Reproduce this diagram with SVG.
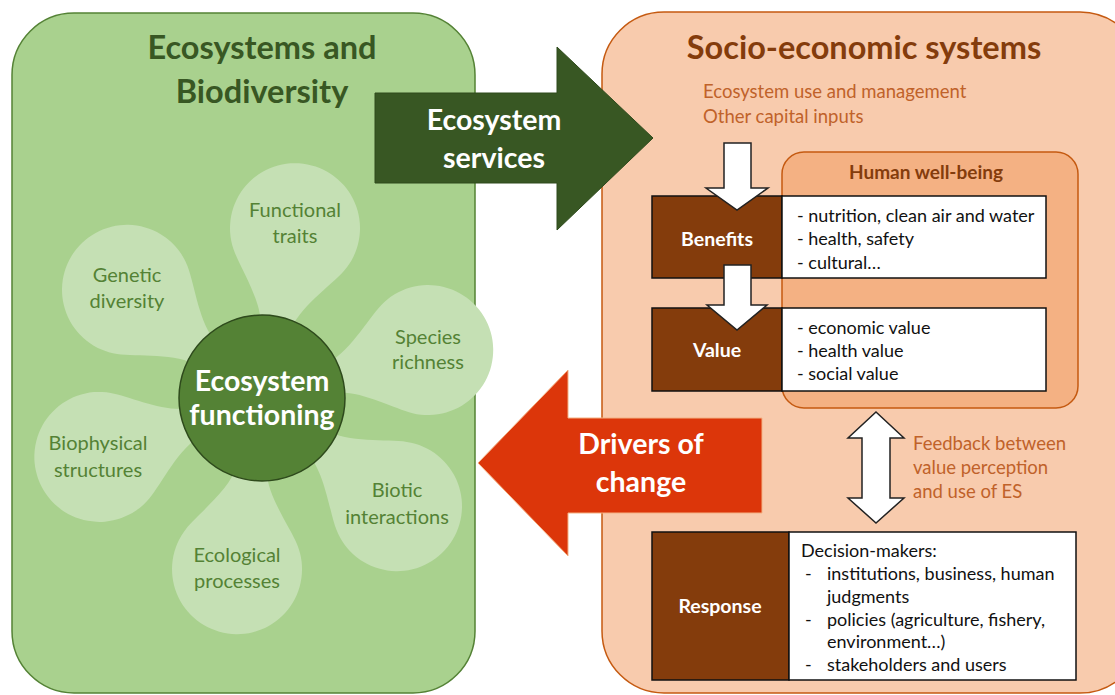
<svg xmlns="http://www.w3.org/2000/svg" width="1115" height="695" viewBox="0 0 1115 695">
<style>
.t{font-family:Lato,"Liberation Sans",sans-serif}
.title{font-size:32.5px;font-weight:bold}
.petal{fill:#c5e0b4}
.pt{font-size:20px;fill:#548235;text-anchor:middle}
.big{font-size:28.5px;font-weight:bold;fill:#fff;text-anchor:middle}
.br{fill:#843c0c;stroke:#111;stroke-width:1.5}
.wb{fill:#fff;stroke:#111;stroke-width:1.5}
.lbl{font-size:19.5px;font-weight:bold;fill:#fff;text-anchor:middle}
.it{font-size:18px;fill:#111}
.or{font-size:18.5px;fill:#c0622a}
.wa{fill:#fff;stroke:#222;stroke-width:1.5}
</style>
<defs>
<path id="petal" class="petal" d="M56.3,-140.5 A65,65 0 1 0 -56.3,-140.5 C-46.3,-123.2 -18,-95 -15,-70 L15,-70 C18,-95 46.3,-123.2 56.3,-140.5 Z"/>
</defs>
<g id="ecosystems">
<rect x="12" y="13" width="463" height="680" rx="62" fill="#a9d18e" stroke="#548235" stroke-width="1.5"/>
<text class="t title" x="262" y="59" text-anchor="middle" fill="#385723">Ecosystems and</text>
<text class="t title" x="262" y="103" text-anchor="middle" fill="#385723">Biodiversity</text>
</g>
<g id="socio">
<rect x="602" y="12" width="540" height="681" rx="62" fill="#f8cbad" stroke="#c55a11" stroke-width="1.5"/>
<text class="t title" x="864" y="59" text-anchor="middle" fill="#843c0c">Socio-economic systems</text>
<text class="t or" x="703" y="98">Ecosystem use and management</text>
<text class="t or" x="703" y="123">Other capital inputs</text>
</g>
<g id="petals">
<use href="#petal" transform="translate(262,398) rotate(11)"/>
<use href="#petal" transform="translate(262,398) rotate(-51.3)"/>
<use href="#petal" transform="translate(262,398) rotate(73.9)"/>
<use href="#petal" transform="translate(262,398) rotate(-109.9)"/>
<use href="#petal" transform="translate(262,398) rotate(128.7)"/>
<use href="#petal" transform="translate(262,398) rotate(-171.7)"/>
</g>
<g id="functional"><text class="t pt" x="295" y="217">Functional</text><text class="t pt" x="295" y="243">traits</text></g>
<g id="genetic"><text class="t pt" x="127" y="282">Genetic</text><text class="t pt" x="127" y="308">diversity</text></g>
<g id="species"><text class="t pt" x="428" y="344">Species</text><text class="t pt" x="428" y="369">richness</text></g>
<g id="biophysical"><text class="t pt" x="98" y="450">Biophysical</text><text class="t pt" x="98" y="477">structures</text></g>
<g id="biotic"><text class="t pt" x="397" y="497">Biotic</text><text class="t pt" x="397" y="524">interactions</text></g>
<g id="ecological"><text class="t pt" x="237" y="562">Ecological</text><text class="t pt" x="237" y="588">processes</text></g>
<g id="functioning">
<circle cx="262" cy="398" r="83" fill="#548235" stroke="#2e4a1c" stroke-width="1.5"/>
<text class="t big" x="262" y="391" font-size="25.5">Ecosystem</text>
<text class="t big" x="262" y="425" font-size="25.5">functioning</text>
</g>
<g id="services-arrow">
<polygon points="375,93 557,93 557,47 653,138 557,230 557,183 375,183" fill="#385723" stroke="#2e4a1c" stroke-width="1"/>
<text class="t big" x="494" y="130">Ecosystem</text>
<text class="t big" x="494" y="168">services</text>
</g>
<g id="drivers-arrow">
<polygon points="478,463 568,370 568,418 762,418 762,513 568,513 568,556" fill="#dc360a" stroke="#f4b183" stroke-width="1"/>
<text class="t big" x="641" y="454">Drivers of</text>
<text class="t big" x="641" y="492">change</text>
</g>
<g id="wellbeing">
<rect x="782" y="152" width="296" height="256" rx="22" fill="#f4b183" stroke="#c55a11" stroke-width="1.5"/>
<text class="t" x="926" y="179" font-size="19" font-weight="bold" fill="#843c0c" text-anchor="middle">Human well-being</text>
</g>
<g id="benefits">
<rect class="br" x="652" y="196" width="130" height="82"/>
<rect class="wb" x="782" y="196" width="264" height="82"/>
<text class="t lbl" x="717" y="246">Benefits</text>
<text class="t it" x="797" y="222">- nutrition, clean air and water</text>
<text class="t it" x="797" y="245">- health, safety</text>
<text class="t it" x="797" y="269">- cultural…</text>
</g>
<g id="value">
<rect class="br" x="652" y="308" width="130" height="83"/>
<rect class="wb" x="782" y="308" width="264" height="83"/>
<text class="t lbl" x="717" y="357">Value</text>
<text class="t it" x="797" y="334">- economic value</text>
<text class="t it" x="797" y="357">- health value</text>
<text class="t it" x="797" y="380">- social value</text>
</g>
<g id="response">
<rect class="br" x="652" y="532" width="137" height="148"/>
<rect class="wb" x="789" y="532" width="287" height="148"/>
<text class="t lbl" x="720" y="613">Response</text>
<text class="t it" x="801" y="557">Decision-makers:</text>
<text class="t it" x="805" y="580">-</text><text class="t it" x="827" y="580">institutions, business, human</text>
<text class="t it" x="827" y="603">judgments</text>
<text class="t it" x="805" y="626">-</text><text class="t it" x="827" y="626">policies (agriculture, fishery,</text>
<text class="t it" x="827" y="648">environment…)</text>
<text class="t it" x="805" y="671">-</text><text class="t it" x="827" y="671">stakeholders and users</text>
</g>
<g id="connectors">
<polygon class="wa" points="724,143 751,143 751,188 768,188 737,210 706,188 724,188"/>
<polygon class="wa" points="724,265 751,265 751,305 767,305 737,330 707,305 724,305"/>
<polygon class="wa" points="876,412 904,438 890,438 890,498 904,498 876,523 848,498 862,498 862,438 848,438"/>
<text class="t or" x="913" y="450">Feedback between</text>
<text class="t or" x="913" y="474">value perception</text>
<text class="t or" x="913" y="498">and use of ES</text>
</g>
</svg>
